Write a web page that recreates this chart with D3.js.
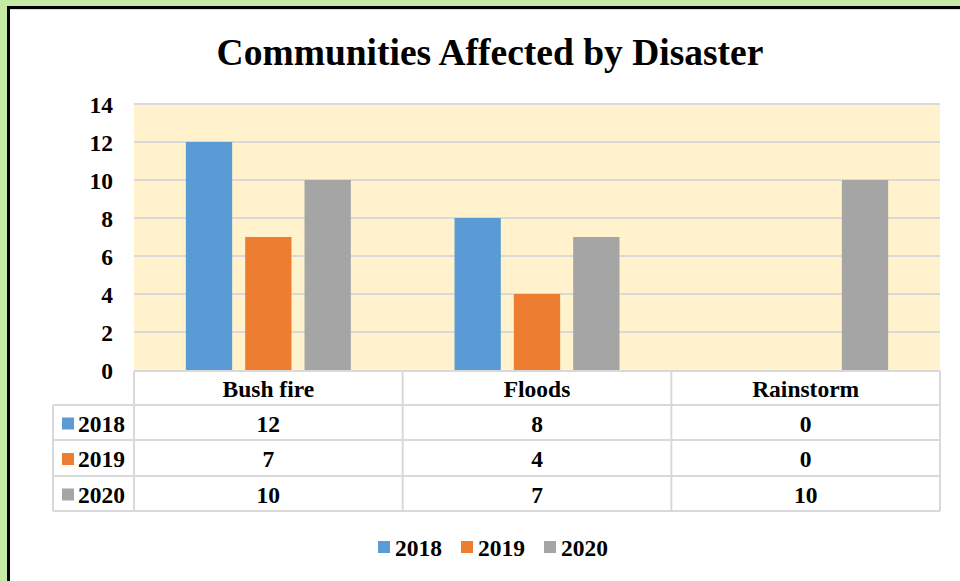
<!DOCTYPE html>
<html>
<head>
<meta charset="utf-8">
<script src="https://cdn.jsdelivr.net/npm/d3@7"></script>
<style>
  html, body { margin: 0; padding: 0; background: #c4eaa6; }
  svg { display: block; }
  text { font-family: "Liberation Serif", "Times New Roman", serif; font-weight: bold; fill: #000; }
</style>
</head>
<body>
<svg id="chart" width="960" height="581"></svg>
<script>
const title = "Communities Affected by Disaster";
const categories = ["Bush fire", "Floods", "Rainstorm"];
const seriesNames = ["2018", "2019", "2020"];
const values2018 = [12, 8, 0];
const values2019 = [7, 4, 0];
const values2020 = [10, 7, 10];
const yTicks = [0, 2, 4, 6, 8, 10, 12, 14];
const colors = ["#5b9bd5", "#ed7d31", "#a5a5a5"];

const series = [values2018, values2019, values2020];
const FS = 23.5;

const svg = d3.select("#chart");
const W = 960, H = 581;

// frame
svg.append("rect").attr("x", 0).attr("y", 0).attr("width", W).attr("height", H).attr("fill", "#c4eaa6");
svg.append("rect").attr("x", 8.5).attr("y", 7.5).attr("width", 1000).attr("height", 1000)
  .attr("fill", "#fff").attr("stroke", "#000").attr("stroke-width", 3);
svg.append("line").attr("x1", 10).attr("x2", W).attr("y1", 9.5).attr("y2", 9.5)
  .attr("stroke", "#d9d9d9").attr("stroke-width", 1);

const plot = { left: 134, right: 940, top: 104, bottom: 370 };

const y = d3.scaleLinear().domain([0, 14]).range([plot.bottom, plot.top]);
const x0 = d3.scaleBand().domain(categories).range([plot.left, plot.right])
  .paddingInner(0.386).paddingOuter(0.193);
const x1 = d3.scaleBand().domain(seriesNames).range([0, x0.bandwidth()])
  .paddingInner(0.22).paddingOuter(0);

// plot background
svg.append("rect").attr("x", plot.left).attr("y", plot.top)
  .attr("width", plot.right - plot.left).attr("height", plot.bottom - plot.top)
  .attr("fill", "#fff2cc");

// gridlines
svg.append("g").selectAll("line").data(yTicks.filter(d => d > 0)).join("line")
  .attr("x1", plot.left).attr("x2", plot.right)
  .attr("y1", d => y(d)).attr("y2", d => y(d))
  .attr("stroke", "#d9d9d9").attr("stroke-width", 2);

// y axis labels
const yAxis = d3.axisLeft(y).tickValues(yTicks).tickSize(0).tickPadding(0);
const yg = svg.append("g").attr("transform", "translate(113,0)").call(yAxis);
yg.select(".domain").remove();
yg.attr("font-family", null).attr("font-size", null);
yg.selectAll("text").attr("font-size", FS).attr("dy", "0.35em").attr("x", 0);

// bars
const bars = svg.append("g");
categories.forEach((c, ci) => {
  seriesNames.forEach((s, si) => {
    const v = series[si][ci];
    bars.append("rect")
      .attr("x", x0(c) + x1(s))
      .attr("y", y(v))
      .attr("width", x1.bandwidth())
      .attr("height", y(0) - y(v))
      .attr("fill", colors[si]);
  });
});

// title
svg.append("text").attr("x", 490).attr("y", 52).attr("text-anchor", "middle")
  .attr("dominant-baseline", "central").attr("font-size", 37.5).text(title);

// data table
const tableLeft = 53;
const rowEdges = [371, 405, 440, 476, 511];
const colEdges = [plot.left].concat(categories.map(c => x0(c) + x0.bandwidth() / 2 + x0.step() / 2));
const grid = svg.append("g").attr("stroke", "#d9d9d9").attr("stroke-width", 2);
rowEdges.forEach((ry, i) => {
  grid.append("line").attr("x1", i === 0 ? plot.left : tableLeft).attr("x2", plot.right)
    .attr("y1", ry).attr("y2", ry);
});
colEdges.forEach(cx => {
  grid.append("line").attr("x1", cx).attr("x2", cx).attr("y1", rowEdges[0]).attr("y2", rowEdges[4]);
});
grid.append("line").attr("x1", tableLeft).attr("x2", tableLeft).attr("y1", rowEdges[1]).attr("y2", rowEdges[4]);

// header labels
categories.forEach(c => {
  svg.append("text").attr("x", x0(c) + x0.bandwidth() / 2).attr("y", (rowEdges[0] + rowEdges[1]) / 2 + 1)
    .attr("text-anchor", "middle").attr("dominant-baseline", "central").attr("font-size", FS).text(c);
});
// rows
seriesNames.forEach((s, si) => {
  const cy = (rowEdges[si + 1] + rowEdges[si + 2]) / 2 + 1;
  svg.append("rect").attr("x", 62).attr("y", cy - 6).attr("width", 12).attr("height", 12).attr("fill", colors[si]);
  svg.append("text").attr("x", 78).attr("y", cy).attr("dominant-baseline", "central")
    .attr("font-size", FS).text(s);
  categories.forEach((c, ci) => {
    svg.append("text").attr("x", x0(c) + x0.bandwidth() / 2).attr("y", cy)
      .attr("text-anchor", "middle").attr("dominant-baseline", "central")
      .attr("font-size", FS).text(series[si][ci]);
  });
});

// legend
const legendX = [378, 461, 544];
seriesNames.forEach((s, si) => {
  svg.append("rect").attr("x", legendX[si]).attr("y", 541).attr("width", 12).attr("height", 12).attr("fill", colors[si]);
  svg.append("text").attr("x", legendX[si] + 17).attr("y", 548).attr("dominant-baseline", "central")
    .attr("font-size", FS).text(s);
});
</script>
</body>
</html>
